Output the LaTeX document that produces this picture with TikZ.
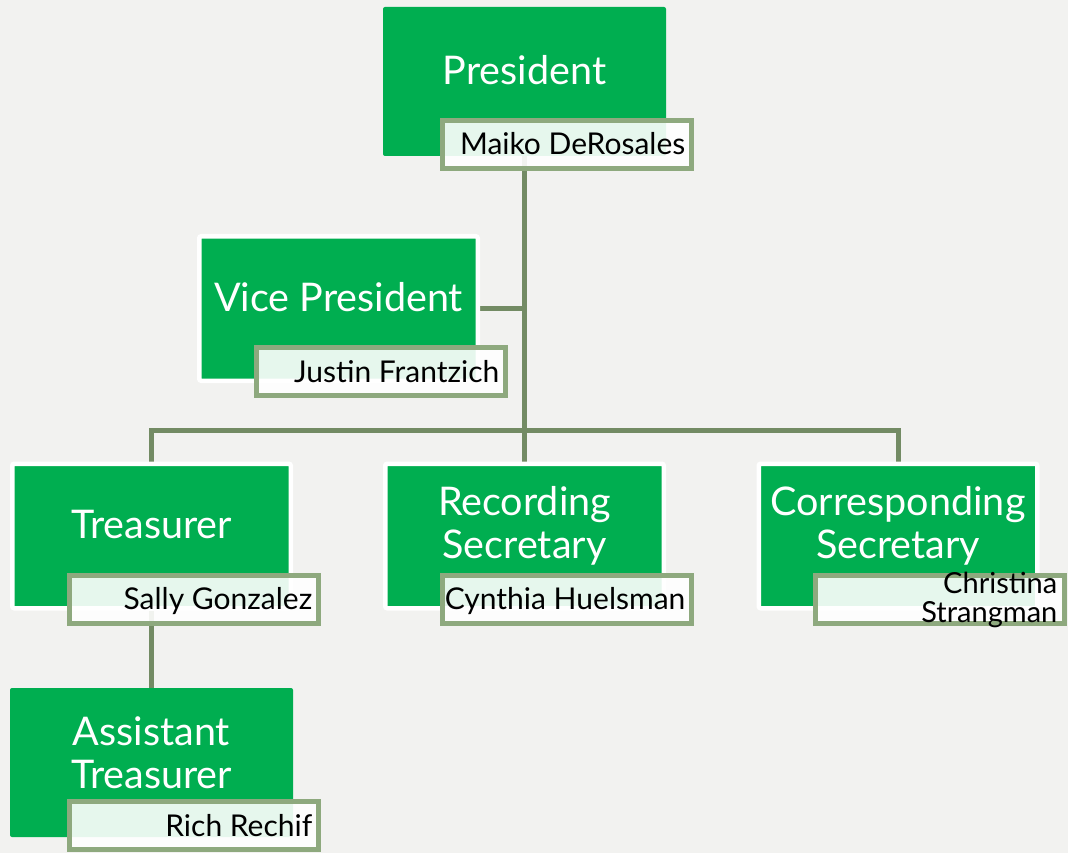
\documentclass[tikz,border=0pt]{standalone}
\usepackage{fontspec}
\setmainfont{Lato}
\usetikzlibrary{calc}
\definecolor{bgc}{HTML}{F2F2F0}
\definecolor{boxgreen}{HTML}{00AE50}
\definecolor{linkc}{HTML}{738B64}
\definecolor{nameedge}{HTML}{8EA97E}
\pgfdeclarelayer{back}
\pgfdeclarelayer{lines}
\pgfsetlayers{back,lines,main}
\begin{document}
\begin{tikzpicture}[x=1pt,y=-1pt,
  post/.style={fill=boxgreen, rounded corners=2pt, inner sep=0pt,
    minimum width=283pt, minimum height=149pt},
  selpost/.style={post, draw=white, line width=4.5pt,
    minimum width=278.5pt, minimum height=144.5pt},
  namebox/.style={fill=white, fill opacity=0.9, draw=nameedge, line width=5pt,
    inner sep=0pt, minimum width=249pt, minimum height=48pt},
  titletext/.style={text=white, font=\fontsize{39.5}{43}\selectfont, align=center, inner sep=0pt},
  nametext/.style={text=black, font=\fontsize{30}{27}\selectfont, inner sep=0pt, anchor=east,
    text height=21pt, text depth=0pt},
  nametwo/.style={text=black, font=\fontsize{29}{29}\selectfont, inner sep=0pt, anchor=east, align=right},
  link/.style={draw=linkc, line width=5pt}]
\begin{pgfonlayer}{back}
\fill[bgc] (0,0) rectangle (1068,853);
\end{pgfonlayer}
\useasboundingbox (0,0) rectangle (1068,853);

% posts
\node[post]    (p)  at (524.5, 81.5) {};
\node[selpost] (vp) at (338.5, 308.5) {};
\node[selpost] (t)  at (151.5, 536) {};
\node[selpost] (rs) at (524.5, 536) {};
\node[selpost] (cs) at (898, 536) {};
\node[post]    (at) at (151.5, 762.5) {};

% titles
\node[titletext] (pt)  at ([yshift=11pt]p.center)  {President};
\node[titletext] (vpt) at ([yshift=11pt]vp.center) {Vice President};
\node[titletext] (tt)  at ([yshift=11pt]t.center)  {Treasurer};
\node[titletext] (rst) at ([yshift=10pt]rs.center) {Recording\\Secretary};
\node[titletext] (cst) at ([yshift=10pt]cs.center) {Corresponding\\Secretary};
\node[titletext] (att) at ([yshift=10pt]at.center) {Assistant\\Treasurer};

% name boxes
\node[namebox] (pn)  at ($(p.center)+(42,63)$)  {};
\node[namebox] (vpn) at ($(vp.center)+(42,63)$) {};
\node[namebox] (tn)  at ($(t.center)+(42,63)$)  {};
\node[namebox] (rsn) at ($(rs.center)+(42,63)$) {};
\node[namebox] (csn) at ($(cs.center)+(41.5,63)$) {};
\node[namebox] (atn) at ($(at.center)+(42,63)$) {};

% names
\node[nametext] (pnt)  at ([xshift=-8pt]pn.east)  {Maiko DeRosales};
\node[nametext] (vpnt) at ([xshift=-8pt]vpn.east) {Justin Frantzich};
\node[nametext] (tnt)  at ([xshift=-8pt]tn.east)  {Sally Gonzalez};
\node[nametext] (rsnt) at ([xshift=-8pt]rsn.east) {Cynthia Huelsman};
\node[nametwo]  (csnt) at ([xshift=-9pt,yshift=-1pt]csn.east) {Christina\\Strangman};
\node[nametext] (atnt) at ([xshift=-8pt]atn.east) {Rich Rechif};

% connectors
\coordinate (j) at (524.5, 430.5);
\begin{pgfonlayer}{lines}
\draw[link] (p.south) -- (rs.north);
\draw[link] (t.north) |- (j) -| (cs.north);
\draw[link] (vp.east) -- (vp.east -| p.south);
\draw[link] (t.south) -- (at.north);
\end{pgfonlayer}
\end{tikzpicture}
\end{document}
